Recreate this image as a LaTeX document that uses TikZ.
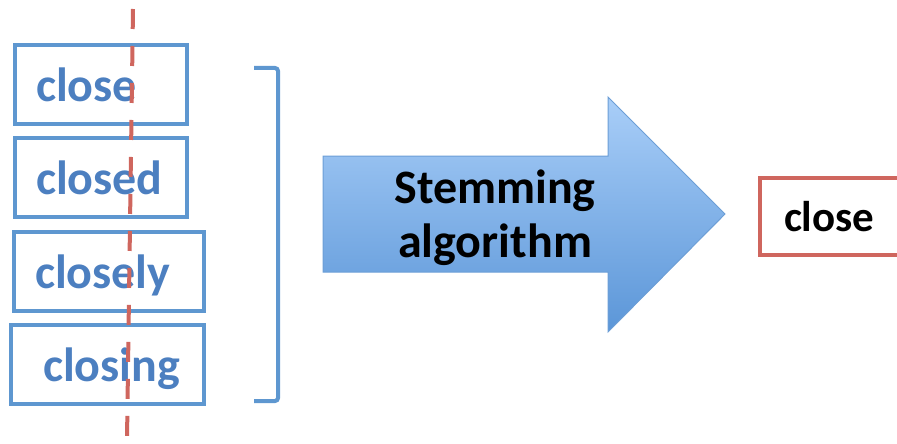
\documentclass[tikz,border=0pt]{standalone}
\usepackage{fontspec}
\setmainfont{Carlito}
\usepackage{tikz}
\usetikzlibrary{positioning}
\definecolor{wordblue}{HTML}{4C7FC0}
\definecolor{boxblue}{HTML}{5E97D0}
\definecolor{stemred}{HTML}{CF665E}
\definecolor{arrowtop}{HTML}{A9CEF8}
\definecolor{arrowbot}{HTML}{5B96D8}
\definecolor{arrowline}{HTML}{6C9ED6}

\begin{document}
\begin{tikzpicture}[
x=1pt, y=-1pt,
wordbox/.style={draw=boxblue, line width=4pt, anchor=north west, align=left,
  minimum height=79pt, text=wordblue, font=\bfseries\fontsize{48}{55}\selectfont},
stembox/.style={draw=stemred, line width=4pt, anchor=north west, align=left,
  minimum height=77pt, font=\bfseries\fontsize{43}{50}\selectfont},
cut/.style={draw=stemred, line width=4pt, dash pattern=on 20pt off 17pt}
]
\useasboundingbox (0,0) rectangle (897,444);
\clip (0,0) rectangle (897,444);
% Words
\foreach \n/\x/\y/\p/\tw/\t in {w1/13/43/21/130/close, w2/13/136/21/130/closed,
    w3/12/230/21/148/closely, w4/9/323/32/129/closing}{
    \node[wordbox, inner xsep=\p pt, text width=\tw pt, text depth=0pt] (\n) at (\x,\y) {\t};
}
% Bracket
\draw[boxblue, line width=4pt, rounded corners=3pt] (254,68) -- (278,68) -- (278,401) -- (254,401);
% Arrow
\draw[arrowline, line width=1pt, top color=arrowtop, bottom color=arrowbot]
    (323,156) -- (608,156) -- (608,97) -- (725,214) -- (608,332) -- (608,272) -- (323,272) -- cycle;
\node[align=center, font=\bfseries\fontsize{48}{54}\selectfont] (algo) at (495,218) {Stemming\\algorithm};
% Stem
\node[stembox, inner xsep=24pt, text width=150pt] (stem) at (758,176) {close};
% Cut line
\coordinate (cuttop) at (133,9);
\coordinate (cutbot) at (127,440);
\draw[cut] (cuttop) -- (cutbot);
\end{tikzpicture}
\end{document}
